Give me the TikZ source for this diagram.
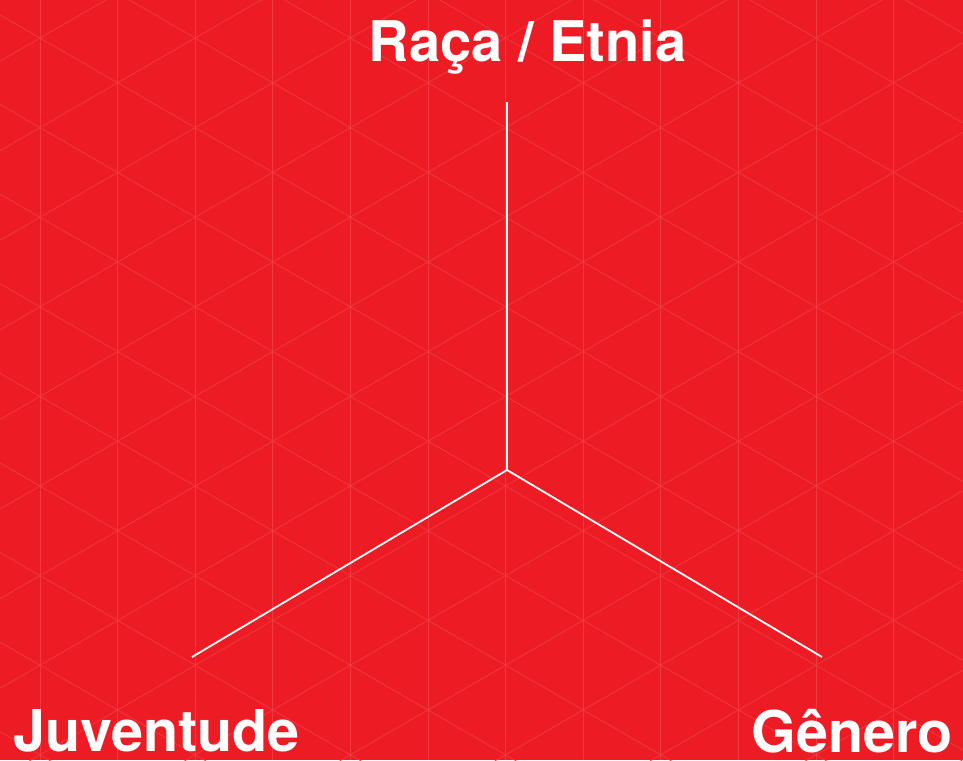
\documentclass[tikz,border=0pt]{standalone}
\usepackage{fontspec}
\setmainfont{TeX Gyre Heros}
\usepackage{xcolor}
\usetikzlibrary{positioning}
\definecolor{bgred}{RGB}{237,28,36}
\definecolor{gridred}{RGB}{240,58,64}

\begin{document}
\begin{tikzpicture}[
        x=1pt, y=-1pt,
        gridline/.style={draw=gridred, line width=0.7pt},
        spoke/.style={draw=white, line width=1.8pt},
        axislabel/.style={
            text=white,
            inner sep=0pt,
            text depth=0pt,
            font=\bfseries\fontsize{57.5}{60}\selectfont
        }
    ]

    % background
    \fill[bgred] (0,0) rectangle (963,760);
    \useasboundingbox (0,0) rectangle (963,760);

    % isometric grid
    \begin{scope}
        \clip (0,0) rectangle (963,760);
        \foreach \k in {0,...,12}
            \draw[gridline] ({40+77.6*\k},0) -- ({40+77.6*\k},760);
        \foreach \m in {-7,...,9}
            \draw[gridline] (0,{14.9+89.6*\m}) -- (963,{14.9+89.6*\m+556});
        \foreach \m in {-1,...,15}
            \draw[gridline] (0,{61.1+89.6*\m}) -- (963,{61.1+89.6*\m-556});
    \end{scope}

    \coordinate (hub) at (507,470);
    \coordinate (racaend) at (507,102);
    \coordinate (juventudeend) at (192,657);
    \coordinate (generoend) at (822,657);

    \node[axislabel, font=\bfseries\fontsize{56}{60}\selectfont, anchor=base]
        (raca) at (527.5,61) {Raça / Etnia};

    \node[axislabel, anchor=base west]
        (juventude) at (13,751) {Juventude};

    \node[axislabel, anchor=base east]
        (genero) at (953,752) {Gênero};

    \draw[spoke] (hub) -- (racaend);
    \draw[spoke] (hub) -- (juventudeend);
    \draw[spoke] (hub) -- (generoend);

\end{tikzpicture}
\end{document}
